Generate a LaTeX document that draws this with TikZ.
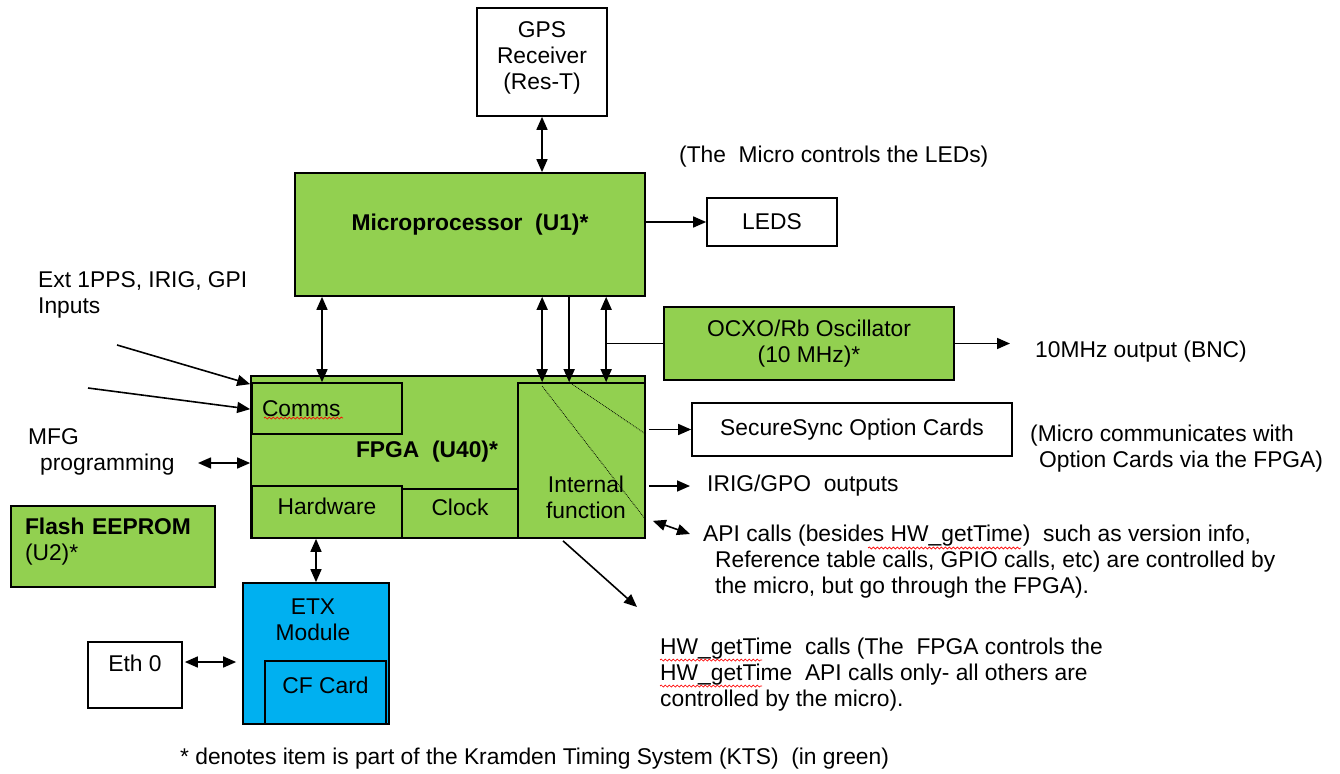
\documentclass[tikz,border=0pt]{standalone}
\usepackage{fontspec}
\setmainfont{Liberation Sans}
\usetikzlibrary{arrows.meta, positioning, calc, decorations.pathmorphing}
\usepackage{xcolor}
\definecolor{ktsGreen}{RGB}{146,208,80}
\definecolor{etxBlue}{RGB}{0,176,240}
\newcommand{\diagfont}{\fontsize{22.8}{26}\selectfont}

\begin{document}
\begin{tikzpicture}[
    x=1pt, y=-1pt,
    font=\diagfont,
    block/.style={rectangle, draw, line width=1.7pt, fill=ktsGreen, align=center},
    plainbox/.style={rectangle, draw, line width=1.7pt, fill=white, align=center},
    bluebox/.style={rectangle, draw, line width=1.7pt, fill=etxBlue, align=center},
    note/.style={align=left, inner sep=2pt},
    arrow/.style={-{Triangle[length=13pt, width=11pt]}, line width=1.6pt},
    dblarrow/.style={{Triangle[length=13pt, width=11pt]}-{Triangle[length=13pt, width=11pt]}, line width=1.6pt},
    link/.style={line width=1.6pt},
    hint/.style={densely dotted, line width=0.8pt},
    spell/.style={red, line width=0.7pt, decorate, decoration={snake, amplitude=1pt, segment length=4pt}}
]
\path[fill=white, use as bounding box] (0,0) rectangle (1340,773);

% Boxes
\node[plainbox, minimum width=130pt, minimum height=108pt, text height=68pt, text depth=12pt] (gps) at (542,62) {GPS\\Receiver\\(Res-T)};
\node[block, minimum width=350pt, minimum height=123pt, text height=16pt, text depth=25pt] (micro) at (470,234.5) {\textbf{Microprocessor\ \ (U1)*}};
\node[plainbox, minimum width=130pt, minimum height=48pt] (leds) at (772,222) {LEDS};
\node[block, minimum width=290pt, minimum height=73pt] (ocxo) at (809,343.5) {OCXO/Rb Oscillator\\(10 MHz)*};
\node[plainbox, minimum width=320pt, minimum height=53pt] (secure) at (852,429.5) {SecureSync Option Cards};

% FPGA and its parts
\node[block, minimum width=394pt, minimum height=162pt] (fpga) at (448,457) {};
\node[block, minimum width=150pt, minimum height=51pt, text width=130pt, inner xsep=10pt, align=left] (comms) at (327,408.5) {Comms};
\node[block, minimum width=150pt, minimum height=52pt, text height=16pt, text depth=12pt] (hardware) at (327,512) {Hardware};
\node[block, minimum width=116pt, minimum height=49pt, text height=16pt, text depth=12pt] (clock) at (460,513.5) {Clock};
\node[block, minimum width=127pt, minimum height=155pt] (internal) at (581.5,460.5) {};
\node[align=center] (internalLabel) at (586,497) {Internal\\function};
\node (fpgaLabel) at (427,452) {\textbf{FPGA\ \ (U40)*}};

\node[block, minimum width=204pt, minimum height=81pt, text width=176pt, inner xsep=14pt, align=left, text height=16pt, text depth=41pt] (flash) at (113,546.5) {\textbf{Flash EEPROM}\\(U2)*};
\node[bluebox, minimum width=146pt, minimum height=141pt] (etx) at (316,653.5) {};
\node[align=center] (etxLabel) at (313,620) {ETX\\Module};
\node[bluebox, minimum width=121pt, minimum height=63pt, text height=16pt, text depth=15pt] (cf) at (325.5,692.5) {CF Card};
\node[plainbox, minimum width=94pt, minimum height=66pt, text height=16pt, text depth=24pt] (eth) at (135,675) {Eth 0};

% Notes
\node[note, anchor=west] (ledsNote) at (677,157) {(The\ \ Micro controls the LEDs)};
\node[note, anchor=west] (extInputs) at (36,294.5) {Ext 1PPS, IRIG, GPI\\Inputs};
\node[note, anchor=west] (mfg) at (26,452) {MFG\\\hspace*{12pt}programming};
\node[note, anchor=west] (bnc) at (1033,352) {10MHz output (BNC)};
\node[note, anchor=west] (cardsNote) at (1028,448.5) {(Micro communicates with\\\hspace*{9pt}Option Cards via the FPGA)};
\node[note, anchor=west] (irig) at (705,486) {IRIG/GPO\ \ outputs};
\node[note, anchor=west] (apiNote) at (701,562) {API calls (besides HW\_getTime)\ \ such as version info,\\\hspace*{12pt}Reference table calls, GPIO calls, etc) are controlled by\\\hspace*{12pt}the micro, but go through the FPGA).};
\node[note, anchor=west] (hwNote) at (658,674.5) {HW\_getTime\ \ calls (The\ \ FPGA controls the\\HW\_getTime\ \ API calls only- all others are\\controlled by the micro).};
\node[note, anchor=west] (ktsNote) at (178,759) {* denotes item is part of the Kramden Timing System (KTS)\ \ (in green)};

% Spelling marks
\draw[spell] (264,418) -- (343,418);
\draw[spell] (868,548) -- (1021,548);
\draw[spell] (660,660) -- (762,660);
\draw[spell] (660,686) -- (762,686);

% Connectors
\coordinate (commsTop) at ($(comms.north)+(-5,0)$);
\coordinate (intA) at ($(internal.north west)+(25,0)$);
\coordinate (intB) at ($(internal.north west)+(52,0)$);
\coordinate (intC) at ($(internal.north west)+(89,0)$);
\coordinate (extA) at (117,345);
\coordinate (extB) at (88,388);
\coordinate (mfgTip) at (198,463);
\coordinate (apiTip) at (690,534);
\coordinate (hwTip) at (637,607);

\draw[dblarrow] (gps.south) -- (gps.south |- micro.north);
\draw[arrow] (micro.east |- leds.west) -- (leds.west);
\draw[dblarrow] (commsTop |- micro.south) -- (commsTop);
\draw[dblarrow] (intA |- micro.south) -- (intA);
\draw[arrow] (intB |- micro.south) -- (intB);
\draw[dblarrow] (intC |- micro.south) -- (intC);
\draw[link] (intC |- ocxo.west) -- (ocxo.west);
\draw[arrow, shorten >=23pt] (ocxo.east) -- (ocxo.east -| bnc.west);
\draw[hint] ($(intA)+(0,4)$) -- ($(internal.south east)+(0,-19)$);
\draw[hint] (intB) -- ($(internal.north east)+(0,52)$);
\draw[arrow, shorten <=3pt] (internal.east |- secure.west) -- (secure.west);
\draw[arrow, shorten <=3pt, shorten >=15pt] (internal.east |- irig.west) -- (irig.west);
\draw[dblarrow] ($(internal.south east)+(7,-18)$) -- (apiTip);
\draw[arrow] ($(internal.south)+(-18.5,2)$) -- (hwTip);
\draw[arrow] (extA) -- ($(fpga.north west)+(0,9)$);
\draw[arrow] (extB) -- ($(fpga.north west)+(0,34)$);
\draw[dblarrow] (mfgTip) -- (mfgTip -| fpga.west);
\draw[dblarrow] (etx.north |- hardware.south) -- (etx.north);
\draw[dblarrow] ($(eth.east)+(2,-13)$) -- ($(etx.west |- eth.east)+(-6,-13)$);

\end{tikzpicture}
\end{document}
